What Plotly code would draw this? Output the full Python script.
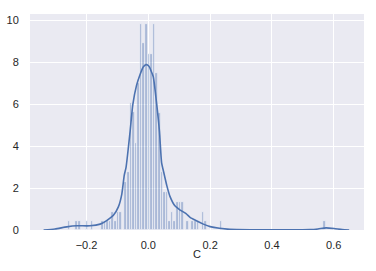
import plotly.graph_objects as go

# ---- data ----
hist_min = -0.2613
hist_max = 0.574
n_bins = 100
# density of each of the 100 bins (index -> value); bins not listed are 0
bin_density = {
    0: 0.44, 3: 0.44, 4: 0.44, 7: 0.44, 9: 0.44,
    13: 0.44, 14: 0.44, 15: 0.44, 16: 0.44, 17: 0.87, 18: 0.44, 19: 0.87, 20: 0.87,
    22: 2.3, 23: 2.78, 24: 6.07, 25: 5.6, 26: 4.16, 27: 7.0,
    28: 9.8, 29: 8.9, 30: 9.8, 31: 8.4, 32: 8.4, 33: 9.8, 34: 7.5,
    35: 5.56, 36: 2.78, 37: 1.83, 38: 1.83,
    39: 0.44, 40: 0.87, 41: 0.44, 42: 1.35, 43: 1.35, 44: 1.35, 46: 0.44,
    48: 0.44, 49: 0.44, 50: 0.44, 52: 0.87, 53: 0.44,
    59: 0.44, 99: 0.44,
}

kde_x = [-0.339, -0.302, -0.264, -0.232, -0.189, -0.156, -0.140, -0.124, -0.113,
         -0.097, -0.086, -0.078, -0.072, -0.059, -0.050, -0.038, -0.027, -0.016,
         -0.007, 0.002, 0.011, 0.016, 0.027, 0.036, 0.043, 0.049, 0.060, 0.070,
         0.086, 0.103, 0.122, 0.135, 0.154, 0.178, 0.200, 0.230, 0.264, 0.329,
         0.458, 0.523, 0.549, 0.575, 0.601, 0.627, 0.650]
kde_y = [0.0, 0.05, 0.15, 0.2, 0.2, 0.28, 0.4, 0.57, 0.7,
         1.1, 1.7, 2.6, 3.0, 4.7, 6.0, 6.9, 7.4, 7.78,
         7.88, 7.8, 7.5, 7.3, 6.0, 4.7, 3.2, 2.8, 2.1, 1.6,
         1.15, 0.95, 0.78, 0.6, 0.45, 0.28, 0.16, 0.08, 0.03, 0.01,
         0.005, 0.02, 0.05, 0.1, 0.07, 0.02, 0.0]

x_tick_vals = [-0.2, 0.0, 0.2, 0.4, 0.6]
x_tick_text = ["\u22120.2", "0.0", "0.2", "0.4", "0.6"]
y_tick_vals = [0, 2, 4, 6, 8, 10]
x_label = "C"

# ---- derived ----
bin_w = (hist_max - hist_min) / n_bins
centers = [hist_min + bin_w * (i + 0.5) for i in range(n_bins)]
heights = [bin_density.get(i, 0.0) for i in range(n_bins)]

blue = "#4C72B0"
fig = go.Figure()
fig.add_trace(go.Bar(
    x=centers, y=heights, width=bin_w,
    marker=dict(color=blue, line=dict(color="white", width=0.7)),
    opacity=0.4, hoverinfo="skip",
))
fig.add_trace(go.Scatter(
    x=kde_x, y=kde_y, mode="lines",
    line=dict(color=blue, width=1.6, shape="spline", smoothing=0.6),
    hoverinfo="skip",
))

font_fam = "Liberation Sans, Arial, sans-serif"
fig.update_layout(
    width=376, height=271,
    margin=dict(l=30, r=12, t=14, b=41),
    paper_bgcolor="white", plot_bgcolor="#EAEAF2",
    showlegend=False, bargap=0,
    font=dict(family=font_fam, size=11, color="#262626"),
    xaxis=dict(
        range=[-0.383, 0.698], tickvals=x_tick_vals, ticktext=x_tick_text,
        showgrid=True, gridcolor="white", gridwidth=1.3, zeroline=False,
        showline=False, ticks="outside", ticklen=5, tickcolor="rgba(0,0,0,0)",
        tickfont=dict(size=11, color="#262626"), automargin=False,
        title=dict(text=x_label, font=dict(size=11, color="#262626"), standoff=0),
    ),
    yaxis=dict(
        range=[0, 10.29], tickvals=y_tick_vals, automargin=False,
        showgrid=True, gridcolor="white", gridwidth=1.3, zeroline=False,
        showline=False, ticks="outside", ticklen=8, tickcolor="rgba(0,0,0,0)",
        tickfont=dict(size=11, color="#262626"),
    ),
)
fig.write_html("out.html")
